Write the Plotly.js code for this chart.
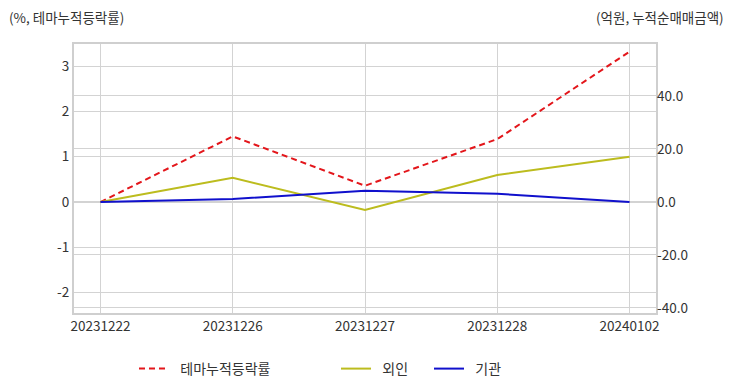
<!DOCTYPE html>
<html>
<head>
<meta charset="utf-8">
<script src="https://cdn.plot.ly/plotly-3.0.1.min.js"></script>
<style>html,body{margin:0;padding:0;background:#fff;}#chart{width:732px;height:392px;}</style>
</head>
<body>
<div id="chart"></div>
<script>
var dates = ["20231222", "20231226", "20231227", "20231228", "20240102"];
var themeReturn = [0, 1.45, 0.36, 1.39, 3.32];
var foreignNet = [0, 9.1, -3.0, 10.2, 17.1];
var instNet = [0, 1.1, 4.2, 3.1, 0];
var leftTicks = [-2, -1, 0, 1, 2, 3];
var leftTickText = ["-2", "-1", "0", "1", "2", "3"];
var rightTicks = [-40, -20, 0, 20, 40];
var rightTickText = ["-40.0", "-20.0", "0.0", "20.0", "40.0"];

var FONT = '"Noto Sans CJK KR", "Noto Sans", sans-serif';
var NB = '\u00A0\u00A0';

var traces = [
  {x: dates, y: themeReturn, name: NB + '테마누적등락률', type: 'scatter', mode: 'lines',
   line: {color: '#e3161b', width: 2, dash: '6px,4px'}, yaxis: 'y', legendwidth: 157},
  {x: dates, y: foreignNet, name: NB + '외인', type: 'scatter', mode: 'lines',
   line: {color: '#bcbc1e', width: 2}, yaxis: 'y2', legendwidth: 48},
  {x: dates, y: instNet, name: NB + '기관', type: 'scatter', mode: 'lines',
   line: {color: '#1010cc', width: 2}, yaxis: 'y2'}
];

var layout = {
  width: 732, height: 392,
  margin: {l: 74, r: 76, t: 44, b: 79},
  paper_bgcolor: '#fff', plot_bgcolor: '#fff',
  font: {family: FONT, size: 12, color: '#333'},
  showlegend: true,
  legend: {orientation: 'h', xref: 'container', yref: 'container', x: 134 / 732, xanchor: 'left',
           y: 1 - 369 / 392, yanchor: 'middle',
           font: {family: FONT, size: 14, color: '#333'}},
  xaxis: {type: 'category', range: [-0.2, 4.2], showgrid: true, gridcolor: '#d3d3d3',
          showline: true, mirror: true, linecolor: '#cfcfcf', linewidth: 2,
          ticks: '', tickfont: {size: 13.5, color: '#333'}, zeroline: false},
  yaxis: {range: [-2.45, 3.49], tickvals: leftTicks, ticktext: leftTickText, tickmode: 'array',
          showgrid: true, gridcolor: '#d3d3d3',
          zeroline: false, showline: true, mirror: true, linecolor: '#cfcfcf', linewidth: 2,
          ticks: '', tickfont: {size: 13.5, color: '#333'}},
  yaxis2: {overlaying: 'y', side: 'right', range: [-41.9, 59.6], tickmode: 'array',
           tickvals: rightTicks, ticktext: rightTickText,
           showgrid: true, gridcolor: '#d3d3d3', zeroline: false,
           ticks: '', tickfont: {size: 13.5, color: '#333'}},
  annotations: [
    {text: '(%, 테마누적등락률)', xref: 'paper', yref: 'paper', x: -0.11, y: 1.0,
     xanchor: 'left', yanchor: 'bottom', yshift: 15, xshift: -3, showarrow: false,
     font: {family: FONT, size: 13.5, color: '#333'}},
    {text: '(억원, 누적순매매금액)', xref: 'paper', yref: 'paper', x: 1.114, y: 1.0,
     xanchor: 'right', yanchor: 'bottom', yshift: 15, xshift: 4, showarrow: false,
     font: {family: FONT, size: 13.5, color: '#333'}}
  ]
};

Plotly.newPlot('chart', traces, layout, {staticPlot: true, displayModeBar: false});
</script>
</body>
</html>
